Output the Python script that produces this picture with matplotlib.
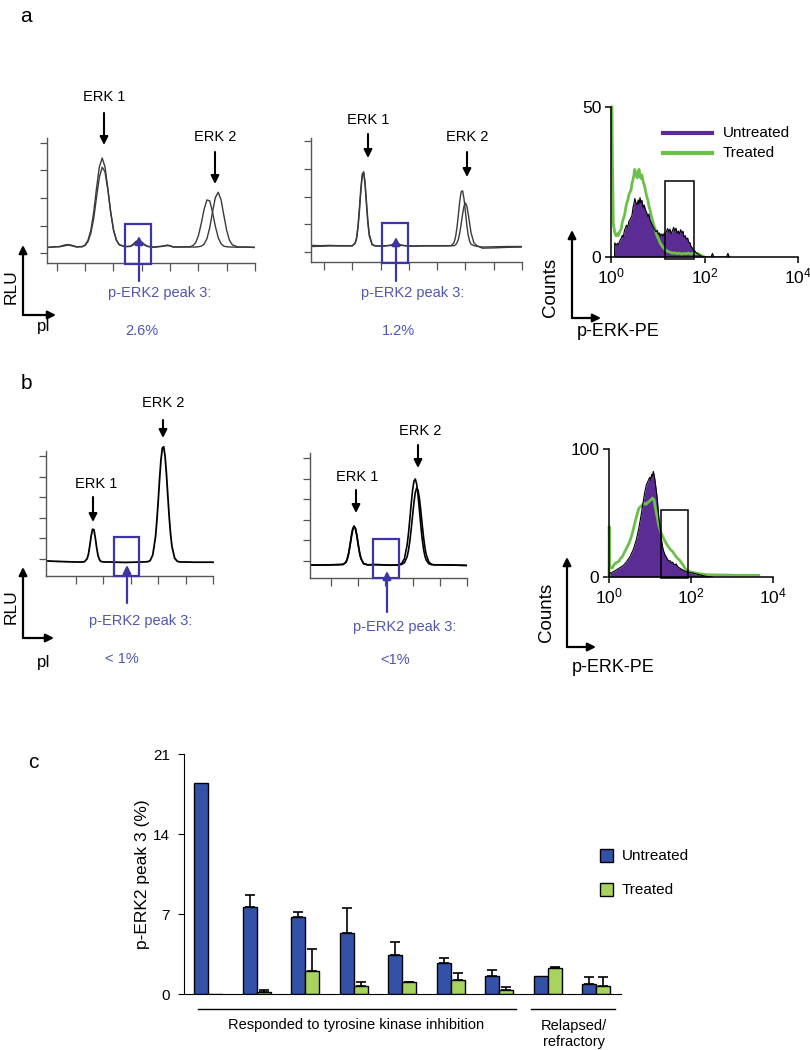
import numpy as np
import matplotlib.pyplot as plt
from matplotlib.patches import Rectangle, FancyArrowPatch
from matplotlib.lines import Line2D

plt.rcParams['font.family'] = ['Liberation Sans', 'DejaVu Sans']
plt.rcParams['mathtext.default'] = 'regular'

# ---------------- data ----------------
# panel a, left electropherogram (pI position, RLU)
a1_x = [-0.33, -0.1, 0.1, 0.3, 0.4, 0.5, 0.7, 0.9,
        1.0, 1.1, 1.2, 1.3, 1.4, 1.5, 1.6, 1.7, 1.8, 1.9, 2.0, 2.1, 2.2,
        2.4, 2.6, 2.7, 2.8, 2.9, 3.0, 3.1, 3.2,
        3.4, 3.7, 3.9, 4.0, 4.1, 4.3, 4.5,
        4.7, 4.8, 4.9, 5.0, 5.1, 5.2, 5.3, 5.4, 5.5, 5.6, 5.7, 5.8, 5.9, 6.0, 6.1, 6.2,
        6.4, 6.7, 7.0]
a1_y1 = [0.21, 0.22, 0.24, 0.30, 0.31, 0.29, 0.23, 0.24,
         0.30, 0.47, 0.83, 1.48, 2.35, 3.13, 3.45, 3.13, 2.35, 1.48, 0.83, 0.47, 0.30,
         0.23, 0.25, 0.33, 0.43, 0.46, 0.40, 0.31, 0.25,
         0.22, 0.25, 0.29, 0.27, 0.23, 0.22, 0.22,
         0.23, 0.27, 0.37, 0.63, 1.07, 1.58, 1.93, 1.90, 1.48, 0.97, 0.56, 0.34, 0.25, 0.23, 0.22, 0.22,
         0.21, 0.22, 0.21]
a1_y2 = [0.20, 0.23, 0.23, 0.27, 0.29, 0.27, 0.22, 0.23,
         0.28, 0.42, 0.72, 1.25, 2.02, 2.75, 3.12, 2.95, 2.30, 1.50, 0.86, 0.48, 0.31,
         0.24, 0.24, 0.30, 0.38, 0.41, 0.37, 0.29, 0.24,
         0.21, 0.24, 0.27, 0.26, 0.22, 0.22, 0.23,
         0.22, 0.22, 0.22, 0.23, 0.25, 0.32, 0.52, 0.92, 1.50, 2.02, 2.21, 1.94, 1.37, 0.82, 0.46, 0.30,
         0.22, 0.22, 0.20]

# panel a, middle electropherogram
a2_x = [-0.42, -0.1, 0.2, 0.5, 0.8, 1.0,
        1.1, 1.15, 1.2, 1.25, 1.3, 1.35, 1.4, 1.45, 1.5, 1.55, 1.6,
        1.7, 1.8, 2.0, 2.2, 2.4, 2.5, 2.6, 2.7, 2.9, 3.2, 3.6, 4.0, 4.3, 4.5,
        4.6, 4.65, 4.7, 4.75, 4.8, 4.85, 4.9, 4.95, 5.0, 5.05, 5.1, 5.15, 5.2,
        5.3, 5.4, 5.6, 6.0, 6.5, 7.0]
a2_y1 = [0.20, 0.21, 0.22, 0.22, 0.22, 0.22,
         0.33, 0.52, 0.93, 1.57, 2.29, 2.82, 2.88, 2.43, 1.71, 1.04, 0.58,
         0.26, 0.22, 0.21, 0.22, 0.26, 0.34, 0.33, 0.26, 0.22, 0.21, 0.22, 0.22, 0.22, 0.23,
         0.35, 0.54, 0.88, 1.34, 1.84, 2.18, 2.21, 1.92, 1.45, 0.96, 0.60, 0.38, 0.28,
         0.23, 0.21, 0.18, 0.19, 0.20, 0.20]
a2_y2 = [0.24, 0.23, 0.24, 0.23, 0.23, 0.23,
         0.31, 0.47, 0.85, 1.45, 2.15, 2.72, 2.90, 2.55, 1.85, 1.15, 0.65,
         0.28, 0.23, 0.22, 0.23, 0.24, 0.29, 0.29, 0.24, 0.23, 0.22, 0.23, 0.23, 0.23, 0.23,
         0.23, 0.26, 0.33, 0.46, 0.69, 1.02, 1.37, 1.66, 1.77, 1.66, 1.37, 1.02, 0.69,
         0.33, 0.23, 0.14, 0.15, 0.17, 0.18]

# panel b, left electropherogram
b1_x = [-1.05, -0.7, -0.3, 0.0, 0.2, 0.3, 0.4,
        0.45, 0.5, 0.55, 0.6, 0.65, 0.7, 0.75, 0.8, 0.85, 0.9,
        1.0, 1.2, 1.5, 1.8, 2.1, 2.4, 2.6, 2.7, 2.8, 2.9,
        2.95, 3.0, 3.05, 3.1, 3.15, 3.2, 3.25, 3.3, 3.35, 3.4, 3.45, 3.5,
        3.6, 3.7, 3.8, 4.0, 4.3, 4.6, 5.0]
b1_y = [-0.10, -0.12, -0.14, -0.15, -0.15, -0.14, 0.00,
        0.23, 0.64, 1.12, 1.44, 1.42, 1.03, 0.55, 0.17, -0.03, -0.12,
        -0.15, -0.15, -0.16, -0.17, -0.16, -0.15, -0.14, -0.09, 0.19, 1.07,
        1.86, 2.84, 3.91, 4.82, 5.39, 5.44, 4.98, 4.11, 3.06, 2.04, 1.21, 0.61,
        0.03, -0.12, -0.15, -0.15, -0.16, -0.16, -0.16]

# panel b, middle electropherogram
b2_x = [-0.75, -0.4, 0.0, 0.3, 0.45, 0.55,
        0.6, 0.65, 0.7, 0.75, 0.8, 0.85, 0.9, 0.95, 1.0, 1.05, 1.1,
        1.2, 1.35, 1.6, 1.9, 2.2, 2.4, 2.5, 2.6, 2.7, 2.8,
        2.85, 2.9, 2.95, 3.0, 3.05, 3.1, 3.15, 3.2, 3.25, 3.3, 3.35, 3.4, 3.45, 3.5,
        3.6, 3.7, 3.8, 4.0, 4.4, 5.0]
b2_y1 = [-0.20, -0.20, -0.19, -0.18, -0.17, -0.06,
         0.11, 0.39, 0.78, 1.22, 1.57, 1.70, 1.57, 1.22, 0.78, 0.39, 0.11,
         -0.14, -0.19, -0.18, -0.19, -0.21, -0.20, -0.18, -0.12, 0.11, 0.78,
         1.35, 2.04, 2.78, 3.43, 3.87, 3.98, 3.73, 3.19, 2.49, 1.75, 1.10, 0.60, 0.25, 0.04,
         -0.14, -0.18, -0.19, -0.19, -0.20, -0.22]
b2_y2 = [-0.20, -0.20, -0.19, -0.18, -0.17, -0.07,
         0.08, 0.34, 0.71, 1.14, 1.50, 1.64, 1.58, 1.27, 0.84, 0.44, 0.14,
         -0.13, -0.19, -0.18, -0.19, -0.21, -0.20, -0.19, -0.17, -0.09, 0.21,
         0.52, 0.97, 1.55, 2.20, 2.83, 3.32, 3.54, 3.44, 3.05, 2.47, 1.81, 1.19, 0.68, 0.31,
         -0.06, -0.17, -0.19, -0.19, -0.20, -0.22]

# flow histograms: (log10 p-ERK-PE, counts)
hist_a_untreated = [
    (0.075, 0), (0.08, 4.7), (0.11, 3.9), (0.14, 4.6), (0.16, 4.0), (0.19, 5.5), (0.22, 6.3),
    (0.24, 7.2), (0.26, 6.6), (0.29, 9.0), (0.31, 9.7), (0.33, 10.6), (0.36, 10.0),
    (0.38, 11.8), (0.41, 12.6), (0.43, 13.2), (0.45, 14.0), (0.47, 16.5), (0.49, 17.8),
    (0.51, 19.5), (0.53, 18.2), (0.56, 17.4), (0.58, 19.0), (0.60, 17.6), (0.62, 19.8),
    (0.64, 18.1), (0.66, 18.9), (0.69, 16.5), (0.71, 17.3), (0.74, 15.6), (0.76, 14.9),
    (0.79, 13.5), (0.81, 14.3), (0.84, 12.0), (0.86, 11.6), (0.89, 10.4), (0.91, 9.8),
    (0.94, 9.0), (0.96, 8.4), (0.99, 8.9), (1.01, 7.6), (1.04, 8.0), (1.06, 6.9),
    (1.09, 7.7), (1.11, 6.8), (1.14, 8.0), (1.16, 7.2), (1.19, 8.6), (1.21, 9.5),
    (1.24, 8.3), (1.26, 9.3), (1.29, 7.8), (1.31, 8.6), (1.34, 9.9), (1.36, 8.8),
    (1.39, 9.6), (1.41, 7.9), (1.44, 8.7), (1.46, 7.6), (1.49, 9.1), (1.51, 8.0),
    (1.54, 8.6), (1.56, 6.7), (1.59, 7.1), (1.61, 5.9), (1.64, 6.3), (1.66, 5.0),
    (1.69, 4.7), (1.71, 3.6), (1.74, 3.0), (1.77, 2.2), (1.80, 1.9), (1.83, 1.3),
    (1.86, 1.0), (1.89, 0.6), (1.93, 0.3), (1.97, 0.1), (2.02, 0), (2.14, 0),
    (2.17, 1.2), (2.20, 0), (2.47, 0), (2.50, 1.2), (2.53, 0)]
hist_a_treated = [
    (0.02, 50), (0.03, 33), (0.05, 11), (0.08, 8.2), (0.11, 7.0), (0.14, 7.8), (0.16, 7.2),
    (0.19, 8.6), (0.22, 9.4), (0.24, 11.5), (0.26, 12.6), (0.29, 14.0), (0.31, 15.8),
    (0.33, 17.6), (0.36, 19.0), (0.38, 20.6), (0.41, 21.7), (0.43, 22.5), (0.45, 24.6),
    (0.47, 25.8), (0.49, 27.3), (0.51, 29.2), (0.53, 27.6), (0.56, 26.4), (0.58, 28.0),
    (0.60, 29.2), (0.62, 27.0), (0.64, 26.2), (0.66, 27.4), (0.69, 25.0), (0.71, 24.1),
    (0.74, 22.0), (0.76, 20.4), (0.79, 18.9), (0.81, 17.0), (0.84, 15.4), (0.86, 13.8),
    (0.89, 12.1), (0.91, 10.8), (0.94, 9.6), (0.96, 8.1), (0.99, 7.0), (1.01, 6.2),
    (1.04, 5.1), (1.06, 4.4), (1.09, 3.8), (1.11, 3.2), (1.14, 2.9), (1.16, 2.5),
    (1.19, 2.1), (1.21, 1.9), (1.26, 1.6), (1.31, 1.3), (1.36, 1.4), (1.41, 1.1),
    (1.46, 1.3), (1.51, 1.0), (1.56, 1.2), (1.61, 1.1), (1.66, 1.3), (1.71, 1.0),
    (1.76, 1.3), (1.81, 1.1), (1.86, 1.2), (1.91, 0.7), (1.96, 0.3), (2.0, 0)]
hist_b_untreated = [
    (0.0, 0), (0.01, 3.1), (0.03, 3.5), (0.06, 2.8), (0.09, 4.0), (0.12, 4.4), (0.15, 4.9),
    (0.18, 5.6), (0.21, 6.2), (0.25, 7.0), (0.28, 7.6), (0.31, 8.3), (0.34, 8.7),
    (0.37, 9.8), (0.40, 10.9), (0.43, 12.0), (0.46, 13.6), (0.49, 14.8), (0.52, 16.4),
    (0.55, 18.6), (0.58, 20.5), (0.61, 23.2), (0.64, 26.5), (0.67, 29.6), (0.70, 34.0),
    (0.73, 38.6), (0.76, 44.0), (0.79, 49.8), (0.82, 56.0), (0.85, 62.0), (0.88, 67.5),
    (0.91, 72.0), (0.94, 74.0), (0.97, 76.5), (1.0, 78.0), (1.02, 75.5), (1.04, 80.0),
    (1.06, 79.0), (1.08, 82.5), (1.10, 80.0), (1.12, 76.0), (1.14, 71.0), (1.16, 66.0),
    (1.18, 60.0), (1.20, 52.0), (1.22, 45.0), (1.25, 37.0), (1.28, 29.0), (1.31, 23.0),
    (1.34, 19.5), (1.37, 17.0), (1.40, 15.5), (1.43, 13.6), (1.46, 12.4), (1.49, 12.8),
    (1.52, 11.0), (1.55, 11.6), (1.58, 10.0), (1.61, 9.6), (1.64, 10.2), (1.67, 8.4),
    (1.70, 7.4), (1.73, 7.0), (1.76, 6.2), (1.79, 5.8), (1.82, 5.0), (1.86, 4.6),
    (1.90, 4.2), (1.95, 3.6), (2.0, 3.3), (2.06, 3.0), (2.12, 2.5), (2.2, 1.8),
    (2.28, 1.2), (2.37, 0.5), (2.45, 0.2), (2.53, 0)]
hist_b_treated = [
    (0.0, 0), (0.005, 39.5), (0.02, 8.3), (0.08, 7.0), (0.12, 9.5), (0.16, 10.9), (0.20, 11.5),
    (0.24, 12.2), (0.28, 14.5), (0.33, 16.1), (0.37, 19.0), (0.41, 21.3), (0.45, 24.0),
    (0.49, 26.5), (0.53, 30.0), (0.57, 34.3), (0.61, 39.5), (0.65, 44.7), (0.69, 49.5),
    (0.73, 53.8), (0.77, 55.0), (0.82, 56.4), (0.86, 57.7), (0.90, 56.8), (0.94, 58.0),
    (0.98, 59.0), (1.02, 60.2), (1.06, 61.6), (1.10, 60.3), (1.12, 56.0), (1.14, 52.5),
    (1.18, 46.0), (1.22, 39.5), (1.27, 34.5), (1.31, 31.7), (1.35, 29.0), (1.39, 26.5),
    (1.43, 24.5), (1.47, 22.6), (1.51, 21.0), (1.55, 20.0), (1.59, 18.0), (1.63, 16.1),
    (1.67, 14.6), (1.71, 13.5), (1.76, 11.5), (1.80, 9.6), (1.84, 7.5), (1.88, 5.7),
    (1.96, 4.2), (2.04, 3.6), (2.12, 3.0), (2.2, 2.6), (2.3, 2.2), (2.37, 1.8),
    (2.5, 1.7), (2.7, 1.6), (2.9, 1.5), (3.1, 1.3), (3.3, 1.4), (3.5, 1.3), (3.65, 1.3)]
gate_a = (14.5, 60, 25.5)
gate_b = (19, 86, 52.5)

# panel c
bar_blue = [18.5, 7.6, 6.7, 5.3, 3.4, 2.7, 1.6, 1.6, 0.9]
bar_blue_err = [0, 1.1, 0.5, 2.25, 1.15, 0.47, 0.5, 0, 0.62]
bar_green = [0, 0.18, 2.0, 0.67, 1.05, 1.23, 0.35, 2.28, 0.73]
bar_green_err = [0, 0.2, 1.95, 0.35, 0.03, 0.6, 0.3, 0.1, 0.77]
c_yticks = [0, 7, 14, 21]

# ---------------- drawing ----------------
W, H = 810, 1050
fig = plt.figure(figsize=(W / 100, H / 100), dpi=100)

BLUE_TXT = '#5056ac'
BLUE_BOX = '#3d34a6'
PURPLE = '#5b2c94'
GREEN = '#6cc04a'
C_BLUE = '#3451a8'
C_GREEN = '#a8d35e'


def P(x, y):
    return x / W, 1 - y / H


def add_ax(x0, y0, x1, y1):
    return fig.add_axes([x0 / W, 1 - y1 / H, (x1 - x0) / W, (y1 - y0) / H])


def txt(x, y, s, **kw):
    kw.setdefault('ha', 'center')
    kw.setdefault('va', 'center')
    kw.setdefault('fontsize', 10.5)
    fig.text(x / W, 1 - y / H, s, **kw)


def arrow(x0, y0, x1, y1, color='black', lw=1.5, ms=12):
    fig.add_artist(FancyArrowPatch(P(x0, y0), P(x1, y1), transform=fig.transFigure,
                                   arrowstyle='-|>', mutation_scale=ms, lw=lw,
                                   color=color, shrinkA=0, shrinkB=0))


def trace_axes(box, xlim, ylim, nx, ny):
    ax = add_ax(*box)
    ax.set_xlim(xlim)
    ax.set_ylim(ylim)
    for s in ['top', 'right']:
        ax.spines[s].set_visible(False)
    for s in ['left', 'bottom']:
        ax.spines[s].set_color('#555555')
        ax.spines[s].set_linewidth(1.0)
    ax.set_xticks(range(nx + 1))
    ax.set_yticks(range(ny + 1))
    ax.tick_params(axis='x', length=6, width=0.9, color='#555555', labelbottom=False)
    ax.tick_params(axis='y', length=5, width=0.9, color='#555555', labelleft=False)
    return ax


def hist_axes(box, ymax):
    ax = add_ax(*box)
    ax.set_xscale('log')
    ax.set_xlim(1, 1e4)
    ax.set_ylim(0, ymax)
    for s in ['top', 'right']:
        ax.spines[s].set_visible(False)
    for s in ['left', 'bottom']:
        ax.spines[s].set_linewidth(1.1)
    ax.set_xticks([1, 100, 1e4])
    ax.set_xticklabels(['$10^0$', '$10^2$', '$10^4$'])
    ax.xaxis.set_minor_locator(plt.NullLocator())
    ax.set_yticks([0, ymax])
    ax.tick_params(labelsize=12.5, length=4, width=1.1, pad=3)
    return ax


def draw_hist(ax, untreated, treated, gate, gate_bottom):
    ux, uy = np.array(untreated).T
    tx, ty = np.array(treated).T
    ax.fill_between(10 ** ux, uy, color=PURPLE, lw=0, zorder=1)
    ax.plot(10 ** tx, ty, color=GREEN, lw=2.0, zorder=2, clip_on=False)
    ax.plot(10 ** ux, uy, color='black', lw=0.8, zorder=3)
    g0, g1, gt = gate
    ax.add_patch(Rectangle((g0, gate_bottom), g1 - g0, gt - gate_bottom, fill=False,
                           ec='black', lw=1.1, zorder=4, clip_on=False))


def blue_box(ax, x0, x1, y0, y1):
    ax.add_patch(Rectangle((x0, y0), x1 - x0, y1 - y0, fill=False, ec=BLUE_BOX,
                           lw=1.6, clip_on=False, zorder=5))


# ----- panel a -----
txt(26, 17, 'a', fontsize=15)

ax = trace_axes((46.7, 138, 255, 263), (-0.36, 7), (-0.36, 4.18), 7, 4)
ax.plot(a1_x, a1_y1, color='#3a3a3a', lw=1.0)
ax.plot(a1_x, a1_y2, color='#3a3a3a', lw=1.0)
blue_box(ax, 2.40, 3.32, -0.40, 1.05)
txt(104, 97, 'ERK 1')
arrow(104, 113, 104, 145)
txt(215, 137, 'ERK 2')
arrow(215, 152, 215, 184)
arrow(139, 281, 139, 236, color=BLUE_BOX, lw=1.6)
txt(160, 293, 'p-ERK2 peak 3:', color=BLUE_TXT)
txt(142, 331, '2.6%', color=BLUE_TXT)
arrow(23, 315, 23, 245, lw=1.6)
arrow(23, 315, 56, 315, lw=1.6)
txt(11, 287, 'RLU', rotation=90, fontsize=12.5)
txt(44, 327, 'pI', fontsize=12)

ax = trace_axes((311, 138, 522, 262), (-0.46, 7), (-0.36, 4.12), 7, 4)
ax.plot(a2_x, a2_y1, color='#3a3a3a', lw=1.0)
ax.plot(a2_x, a2_y2, color='#3a3a3a', lw=1.0)
blue_box(ax, 2.05, 2.97, -0.40, 1.05)
txt(368, 120, 'ERK 1')
arrow(368, 134, 368, 158)
txt(467, 137, 'ERK 2')
arrow(467, 152, 467, 177)
arrow(396, 281, 396, 237, color=BLUE_BOX, lw=1.6)
txt(413, 293, 'p-ERK2 peak 3:', color=BLUE_TXT)
txt(398, 331, '1.2%', color=BLUE_TXT)

ax = hist_axes((611, 107, 798, 257), 50)
draw_hist(ax, hist_a_untreated, hist_a_treated, gate_a, -0.5)
fig.add_artist(Line2D([663 / W, 712 / W], [1 - 133 / H] * 2, color=PURPLE, lw=3,
                      transform=fig.transFigure))
fig.add_artist(Line2D([663 / W, 712 / W], [1 - 153 / H] * 2, color=GREEN, lw=3,
                      transform=fig.transFigure))
txt(723, 133, 'Untreated', ha='left', fontsize=11)
txt(723, 153, 'Treated', ha='left', fontsize=11)
arrow(572, 318, 572, 230, lw=1.6)
arrow(572, 318, 601, 318, lw=1.6)
txt(551, 287, 'Counts', rotation=90, fontsize=13.5)
txt(618, 332, 'p-ERK-PE', fontsize=13)

# ----- panel b -----
txt(26, 383, 'b', fontsize=15)

ax = trace_axes((46, 451, 213, 576), (-1.1, 5), (-0.83, 5.24), 5, 5)
ax.plot(b1_x, b1_y, color='black', lw=1.3, clip_on=False)
blue_box(ax, 1.39, 2.30, -0.83, 1.07)
txt(96, 484, 'ERK 1')
arrow(93, 497, 93, 522)
txt(163, 403, 'ERK 2')
arrow(163, 420, 163, 438)
arrow(127, 603, 127, 565, color=BLUE_BOX, lw=1.6)
txt(141, 621, 'p-ERK2 peak 3:', color=BLUE_TXT)
txt(122, 659, '< 1%', color=BLUE_TXT)
arrow(23, 638, 23, 567, lw=1.6)
arrow(23, 638, 54, 638, lw=1.6)
txt(11, 607, 'RLU', rotation=90, fontsize=12.5)
txt(44, 662, 'pI', fontsize=12)

ax = trace_axes((310, 453, 467, 578), (-0.77, 5), (-0.83, 5.24), 5, 5)
ax.plot(b2_x, b2_y1, color='black', lw=1.2)
ax.plot(b2_x, b2_y2, color='black', lw=1.2)
blue_box(ax, 1.54, 2.50, -0.83, 1.07)
txt(357, 477, 'ERK 1')
arrow(356, 490, 356, 513)
txt(420, 431, 'ERK 2')
arrow(418, 445, 418, 468)
arrow(387, 612, 387, 571, color=BLUE_BOX, lw=1.6)
txt(405, 627, 'p-ERK2 peak 3:', color=BLUE_TXT)
txt(395, 660, '<1%', color=BLUE_TXT)

ax = hist_axes((609, 449, 773, 577), 100)
draw_hist(ax, hist_b_untreated, hist_b_treated, gate_b, -0.8)
arrow(567, 647, 567, 557, lw=1.6)
arrow(567, 647, 596, 647, lw=1.6)
txt(547, 612, 'Counts', rotation=90, fontsize=13.5)
txt(613, 668, 'p-ERK-PE', fontsize=13)

# ----- panel c -----
txt(33, 762, 'c', fontsize=15)

ax = add_ax(184, 754, 621, 994)
x = np.arange(len(bar_blue))
w = 0.29
ax.bar(x, bar_blue, width=w, align='edge', color=C_BLUE, edgecolor='black', lw=1.0)
ax.bar(x + w, bar_green, width=w, align='edge', color=C_GREEN, edgecolor='black', lw=1.0)
for off, vals, errs in [(w / 2, bar_blue, bar_blue_err), (1.5 * w, bar_green, bar_green_err)]:
    vals = np.array(vals)
    errs = np.array(errs)
    m = errs > 0
    ax.errorbar(x[m] + off, vals[m], yerr=[np.zeros(m.sum()), errs[m]], fmt='none',
                ecolor='black', elinewidth=1.2, capsize=3.5, capthick=1.2, zorder=1)
ax.set_xlim(-0.206, 8.8)
ax.set_ylim(0, 21)
ax.set_yticks(c_yticks)
ax.set_xticks([])
for s in ['top', 'right']:
    ax.spines[s].set_visible(False)
ax.tick_params(axis='y', labelsize=11, length=4, pad=6)
ax.set_ylabel('p-ERK2 peak 3 (%)', fontsize=12.5, labelpad=2)
ax.plot([0.08, 6.64], [-1.32, -1.32], color='black', lw=1.0, clip_on=False)
ax.plot([6.95, 8.68], [-1.32, -1.32], color='black', lw=1.0, clip_on=False)
txt(356, 1025, 'Responded to tyrosine kinase inhibition')
txt(574, 1034, 'Relapsed/\nrefractory', linespacing=1.15)

fig.add_artist(Rectangle(P(600, 862), 13 / W, 13 / H, transform=fig.transFigure,
                         fc=C_BLUE, ec='black', lw=1.0))
fig.add_artist(Rectangle(P(600, 896), 13 / W, 13 / H, transform=fig.transFigure,
                         fc=C_GREEN, ec='black', lw=1.0))
txt(622, 856, 'Untreated', ha='left', fontsize=11)
txt(622, 890, 'Treated', ha='left', fontsize=11)

fig.savefig('out.png', dpi=100)
